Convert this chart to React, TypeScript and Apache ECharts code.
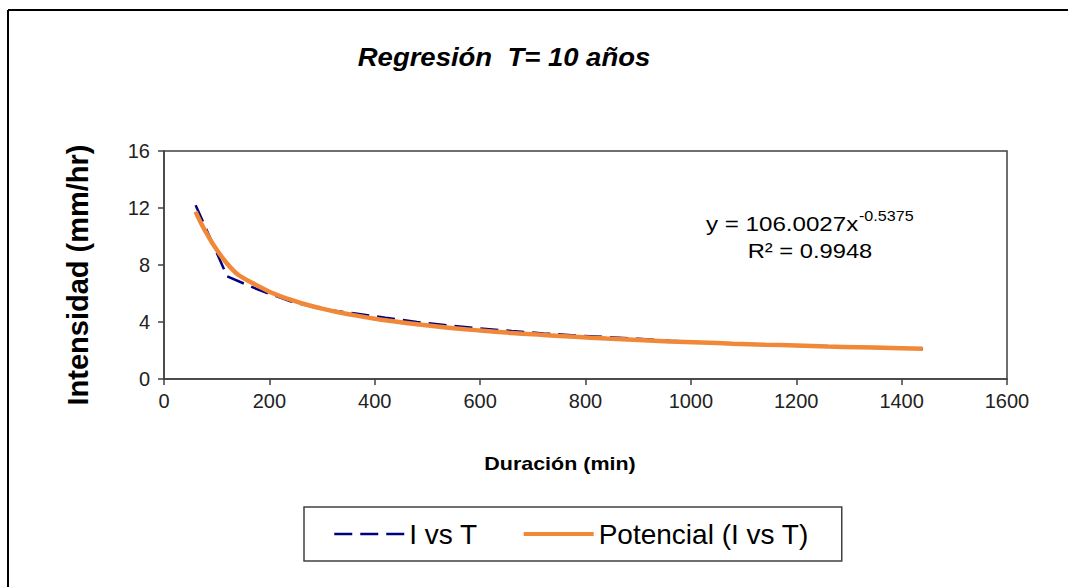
import React, { useEffect, useRef } from "react";
import * as echarts from "echarts";

const durations: number[] = [60, 120, 180, 240, 300, 360, 420, 480, 540, 600, 660, 720, 780, 840, 900, 960, 1020, 1080, 1140, 1200, 1260, 1320, 1380, 1440];
const observed: number[] = [12.2, 7.2, 6.25, 5.45, 4.9, 4.62, 4.3, 4.0, 3.75, 3.55, 3.37, 3.2, 3.06, 2.94, 2.82, 2.68, 2.58, 2.48, 2.4, 2.33, 2.27, 2.21, 2.15, 2.1];
const trend: number[] = [11.74, 8.09, 6.5, 5.57, 4.94, 4.48, 4.12, 3.84, 3.6, 3.4, 3.23, 3.09, 2.96, 2.84, 2.74, 2.64, 2.56, 2.48, 2.41, 2.35, 2.28, 2.23, 2.18, 2.13];
const xTicks = { min: 0, max: 1600, interval: 200 };
const yTicks = { min: 0, max: 16, interval: 4 };
const seriesNames = ["I vs T", "Potencial (I vs T)"];
const titleText = "Regresión  T= 10 años";
const xTitle = "Duración (min)";
const yTitle = "Intensidad (mm/hr)";
const eqMain = "y = 106.0027x";
const eqSup = "-0.5375";
const eqR2 = "R² = 0.9948";

const FONT = "Arial, 'Liberation Sans', sans-serif";
const NAVY = "#000080";
const ORANGE = "#F08838";

export default function App() {
  const ref = useRef<HTMLDivElement>(null);
  useEffect(() => {
    if (!ref.current) return;
    const chart = echarts.init(ref.current, null, { renderer: "svg" });
    const obsData = durations.map((d, i) => [d, observed[i]]);
    const trData = durations.map((d, i) => [d, trend[i]]);
    chart.setOption({
      animation: false,
      backgroundColor: "#ffffff",
      textStyle: { fontFamily: FONT },
      grid: {
        left: 164,
        top: 151,
        width: 843,
        height: 228,
        show: true,
        borderColor: "#404040",
        borderWidth: 1.5,
        backgroundColor: "transparent",
      },
      xAxis: {
        type: "value",
        min: xTicks.min,
        max: xTicks.max,
        interval: xTicks.interval,
        axisLine: { show: true, lineStyle: { color: "#404040", width: 1.5 } },
        axisTick: { show: true, inside: false, length: 6, lineStyle: { color: "#404040", width: 1.5 } },
        axisLabel: { fontSize: 20, color: "#222", margin: 12, fontFamily: FONT, formatter: (v: number) => String(v) },
        splitLine: { show: false },
      },
      yAxis: {
        type: "value",
        min: yTicks.min,
        max: yTicks.max,
        interval: yTicks.interval,
        axisLine: { show: true, lineStyle: { color: "#404040", width: 1.5 } },
        axisTick: { show: true, inside: false, length: 6, lineStyle: { color: "#404040", width: 1.5 } },
        axisLabel: { fontSize: 20, color: "#222", margin: 14, fontFamily: FONT, formatter: (v: number) => String(v) },
        splitLine: { show: false },
      },
      legend: {
        left: 304,
        top: 507,
        orient: "horizontal",
        data: [
          { name: seriesNames[0], lineStyle: { width: 2.5, color: NAVY, type: [18, 8] } },
          { name: seriesNames[1], lineStyle: { width: 4, color: ORANGE } },
        ],
        borderColor: "#404040",
        borderWidth: 1.5,
        padding: [13, 33, 13, 29],
        itemWidth: 70,
        itemHeight: 16,
        itemGap: 44,
        itemStyle: { opacity: 0 },
        textStyle: { fontSize: 28, color: "#000", fontFamily: FONT },
      },
      series: [
        {
          name: seriesNames[0],
          type: "line",
          data: obsData,
          showSymbol: false,
          symbol: "none",
          lineStyle: { color: NAVY, width: 2.5, type: [18, 8] },
          itemStyle: { color: NAVY },
          z: 2,
        },
        {
          name: seriesNames[1],
          type: "line",
          data: trData,
          smooth: true,
          showSymbol: false,
          symbol: "none",
          lineStyle: { color: ORANGE, width: 4.5 },
          itemStyle: { color: ORANGE },
          z: 3,
        },
      ],
      graphic: [
        { type: "line", shape: { x1: 8, y1: 10, x2: 1068, y2: 10 }, style: { stroke: "#000", lineWidth: 2 } },
        { type: "line", shape: { x1: 8, y1: 10, x2: 8, y2: 587 }, style: { stroke: "#000", lineWidth: 2 } },
        {
          type: "text",
          x: 504,
          y: 57,
          scaleX: 1.1,
          style: { text: titleText, font: `italic bold 25px ${FONT}`, fill: "#000", textAlign: "center", textVerticalAlign: "middle" },
        },
        {
          type: "text",
          x: 78,
          y: 275,
          rotation: Math.PI / 2,
          style: { text: yTitle, font: `bold 29px ${FONT}`, fill: "#000", textAlign: "center", textVerticalAlign: "middle" },
        },
        {
          type: "text",
          x: 560,
          y: 463,
          scaleX: 1.13,
          style: { text: xTitle, font: `bold 19px ${FONT}`, fill: "#000", textAlign: "center", textVerticalAlign: "middle" },
        },
        {
          type: "text",
          x: 706,
          y: 224,
          scaleX: 1.15,
          style: { text: eqMain, font: `21px ${FONT}`, fill: "#000", textAlign: "left", textVerticalAlign: "middle" },
        },
        {
          type: "text",
          x: 859,
          y: 216,
          scaleX: 1.15,
          style: { text: eqSup, font: `14px ${FONT}`, fill: "#000", textAlign: "left", textVerticalAlign: "middle" },
        },
        {
          type: "text",
          x: 810,
          y: 251,
          scaleX: 1.13,
          style: { text: eqR2, font: `21px ${FONT}`, fill: "#000", textAlign: "center", textVerticalAlign: "middle" },
        },
      ],
    });
    return () => chart.dispose();
  }, []);
  return <div ref={ref} style={{ position: "fixed", left: 0, top: 0, width: 1068, height: 587 }} />;
}
